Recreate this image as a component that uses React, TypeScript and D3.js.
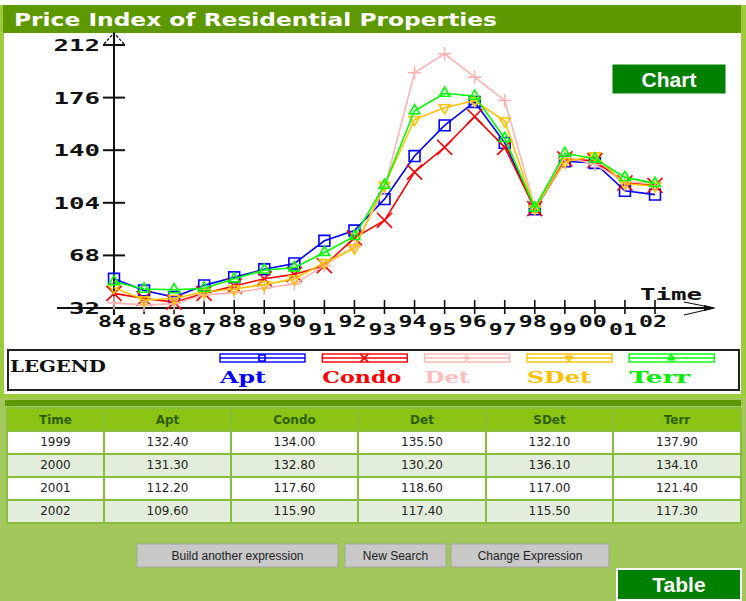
import * as d3 from "d3";

// time axis labels (two-digit years)
const years = ["84", "85", "86", "87", "88", "89", "90", "91", "92", "93", "94", "95", "96", "97", "98", "99", "00", "01", "02"];

// index values per property type (last four from the table)
const apt = [52, 44, 39.5, 47.5, 53, 58.5, 62.5, 78, 85, 106.5, 136, 157, 173, 145, 99.5, 132.4, 131.3, 112.2, 109.6];
const condo = [42, 38.5, 36, 42, 47, 52, 55, 61, 80, 92, 125, 142, 163, 142, 100, 134.0, 132.8, 117.6, 115.9];
const det = [35.5, 34, 35, 41, 42.5, 45.5, 48.5, 61, 74, 114, 193, 206, 190, 174, 101, 135.5, 130.2, 118.6, 117.4];
const sdet = [46, 37.5, 38.5, 43, 45, 48, 52, 63, 73, 116, 161, 169, 174, 160, 100, 132.1, 136.1, 117.0, 115.5];
const terr = [50, 45, 44.5, 45.5, 52, 58, 59.5, 70, 81, 116, 167, 179, 177, 148, 100.5, 137.9, 134.1, 121.4, 117.3];

const yTicks = [32, 68, 104, 140, 176, 212];

const tableYears = ["1999", "2000", "2001", "2002"];
const buttons = ["Build another expression", "New Search", "Change Expression"];

const series = [
  { name: "Apt", color: "#0000ff", text: "#0000ff", values: apt, marker: "square" },
  { name: "Condo", color: "#ff0000", text: "#ff0000", values: condo, marker: "times" },
  { name: "Det", color: "#ffb4b4", text: "#ffbcbc", values: det, marker: "plus" },
  { name: "SDet", color: "#ffc000", text: "#ffc000", values: sdet, marker: "down" },
  { name: "Terr", color: "#00ff00", text: "#00ee00", values: terr, marker: "up" },
];

const darkGreen = "#5e9800";
const lightGreen = "#9ccb3c";
const lowerBg = "#a2c85c";

function markerPath(kind: string, scale: number) {
  if (kind === "square") return d3.symbol().type(d3.symbolSquare2).size(150 * scale)()!;
  if (kind === "times") return d3.symbol().type(d3.symbolTimes).size(150 * scale)()!;
  if (kind === "plus") return d3.symbol().type(d3.symbolPlus).size(60 * scale)()!;
  return d3.symbol().type(d3.symbolTriangle2).size(80 * scale)()!;
}

function Marker({ kind, cx, cy, color, scale = 1 }: any) {
  const rot = kind === "down" ? " rotate(180)" : "";
  return (
    <path
      d={markerPath(kind, scale)}
      transform={`translate(${cx},${cy})${rot}`}
      fill="none"
      stroke={color}
      strokeWidth={1.6}
    />
  );
}

export default function App() {
  const x = d3.scalePoint<string>().domain(years).range([114, 655]);
  const y = d3.scaleLinear().domain([32, 212]).range([308, 45]);
  const line = d3.line<number>()
    .x((_, i) => x(years[i])!)
    .y((d) => y(d));

  // table columns
  const colEdges = [7, 104, 231, 358, 486, 613, 741];
  const headers = ["Time", ...series.map((s) => s.name)];
  const tTop = 408;
  const headH = 23;
  const rowH = 23;
  const axisFont = "'DejaVu Sans Mono', monospace";

  const btnX = [137, 345, 451];
  const btnW = [201, 101, 158];

  return (
    <div style={{ position: "absolute", left: 0, top: 0 }}>
      <svg width={746} height={601} style={{ display: "block" }}>
        <rect x={0} y={0} width={746} height={601} fill="#ffffff" />
        {/* chart panel frame */}
        <rect x={0} y={5} width={746} height={395} fill={lightGreen} />
        <rect x={3} y={5} width={738} height={28} fill={darkGreen} />
        <rect x={4} y={33} width={737} height={361} fill="#ffffff" />
        <text x={14} y={26} fill="#ffffff" fontFamily="'DejaVu Sans', sans-serif" fontWeight="bold"
          fontSize={17} textLength={483} lengthAdjust="spacingAndGlyphs">
          Price Index of Residential Properties
        </text>

        {/* Chart badge */}
        <rect x={612} y={64} width={114} height={30} fill="#008000" stroke="#ffffff" strokeWidth={1} />
        <text x={669} y={87} textAnchor="middle" fill="#ffffff" fontFamily="'Liberation Sans', Arial, sans-serif"
          fontWeight="bold" fontSize={21}>Chart</text>

        {/* y axis */}
        <line x1={114} y1={33} x2={114} y2={315} stroke="#111" strokeWidth={2} />
        <path d="M104,44 L114,33 L124,44" fill="none" stroke="#111" strokeWidth={1.3} strokeDasharray="3,1.5" />
        {yTicks.map((t) => (
          <g key={t}>
            <line x1={103} x2={125} y1={y(t)} y2={y(t)} stroke="#111" strokeWidth={2} />
            <text x={100} y={y(t) + 6} textAnchor="end" fontFamily={axisFont} fontWeight="bold" fontSize={16}
              fill="#111" textLength={String(t).length * 15.5} lengthAdjust="spacingAndGlyphs">{t}</text>
          </g>
        ))}

        {/* x axis */}
        <line x1={57} y1={308} x2={712} y2={308} stroke="#111" strokeWidth={2} />
        <path d="M684,302 L714,308 L684,315" fill="none" stroke="#111" strokeWidth={1.2} />
        <path d="M704,305 L716,308 L704,311 Z" fill="#111" />
        <text x={640} y={300} fontFamily={axisFont} fontWeight="bold" fontSize={16} fill="#111"
          textLength={62} lengthAdjust="spacingAndGlyphs">Time</text>
        {years.map((yr, i) => (
          <g key={yr}>
            <line x1={x(yr)} x2={x(yr)} y1={300} y2={314} stroke="#111" strokeWidth={1.6} />
            <text x={x(yr)! - 2} y={i % 2 === 0 ? 327 : 335} textAnchor="middle" fontFamily={axisFont}
              fontWeight="bold" fontSize={16} fill="#111" textLength={28} lengthAdjust="spacingAndGlyphs">{yr}</text>
          </g>
        ))}

        {/* series */}
        {series.map((s) => (
          <g key={s.name}>
            <path d={line(s.values)!} fill="none" stroke={s.color} strokeWidth={1.6} />
            {s.values.map((v, i) => (
              <Marker key={i} kind={s.marker} cx={x(years[i])} cy={y(v)} color={s.color} />
            ))}
          </g>
        ))}

        {/* legend */}
        <rect x={8} y={350} width={731} height={40} fill="#ffffff" stroke="#222" strokeWidth={2} />
        <text x={10} y={372} fontFamily="'DejaVu Serif', serif" fontWeight="bold" fontSize={16} fill="#111"
          textLength={96} lengthAdjust="spacingAndGlyphs">LEGEND</text>
        {series.map((s, i) => {
          const lx = 220 + i * 102.3;
          const tw = [46, 79, 45, 64, 61][i];
          return (
            <g key={s.name}>
              <rect x={lx} y={354} width={85} height={8} fill="none" stroke={s.color} strokeWidth={1.4} />
              <line x1={lx} x2={lx + 85} y1={358} y2={358} stroke={s.color} strokeWidth={1.4} />
              <Marker kind={s.marker} cx={lx + 42} cy={358} color={s.color} scale={0.3} />
              <text x={lx} y={383} fill={s.text} fontFamily="'DejaVu Serif', serif" fontWeight="bold" fontSize={17}
                textLength={tw} lengthAdjust="spacingAndGlyphs">{s.name}</text>
            </g>
          );
        })}

        {/* lower panel with table */}
        <rect x={0} y={398} width={746} height={203} fill={lowerBg} />
        <rect x={5} y={400} width={736} height={6} fill={darkGreen} />
        <rect x={7} y={tTop} width={734} height={headH} fill="#8cc414" />
        {headers.map((h, c) => (
          <text key={h} x={(colEdges[c] + colEdges[c + 1]) / 2} y={tTop + 16} textAnchor="middle"
            fontFamily="'DejaVu Sans', sans-serif" fontWeight="bold" fontSize={12} fill="#2f5e00">{h}</text>
        ))}
        {tableYears.map((yr, r) => {
          const ry = tTop + headH + r * rowH;
          const idx = years.length - tableYears.length + r;
          const cells = [yr, ...series.map((s) => s.values[idx].toFixed(2))];
          return (
            <g key={yr}>
              <rect x={7} y={ry} width={734} height={rowH} fill={r % 2 === 0 ? "#ffffff" : "#e2eedb"} />
              {cells.map((c, ci) => (
                <text key={ci} x={(colEdges[ci] + colEdges[ci + 1]) / 2} y={ry + 15} textAnchor="middle"
                  fontFamily="'DejaVu Sans', sans-serif" fontSize={12} fill="#222">{c}</text>
              ))}
            </g>
          );
        })}
        {/* table grid */}
        {colEdges.map((cx, i) => (
          <line key={i} x1={cx} x2={cx} y1={tTop} y2={tTop + headH + rowH * 4} stroke="#86bd3c" strokeWidth={2} />
        ))}
        {[0, 1, 2, 3, 4, 5].map((r) => {
          const ly = r === 0 ? tTop : tTop + headH + (r - 1) * rowH;
          return <line key={r} x1={7} x2={741} y1={ly} y2={ly} stroke="#86bd3c" strokeWidth={2} />;
        })}

        {/* buttons */}
        {buttons.map((b, i) => (
          <g key={b}>
            <rect x={btnX[i]} y={544} width={btnW[i]} height={23} fill="#c8c8c8" stroke="#a4a4a4" strokeWidth={1} />
            <text x={btnX[i] + btnW[i] / 2} y={560} textAnchor="middle" fontFamily="'Liberation Sans', Arial, sans-serif"
              fontSize={12} fill="#222">{b}</text>
          </g>
        ))}

        {/* Table badge */}
        <rect x={617} y={569} width={124} height={31} fill="#008000" stroke="#ffffff" strokeWidth={2} />
        <text x={679} y={592} textAnchor="middle" fill="#ffffff" fontFamily="'Liberation Sans', Arial, sans-serif"
          fontWeight="bold" fontSize={21}>Table</text>
      </svg>
    </div>
  );
}
